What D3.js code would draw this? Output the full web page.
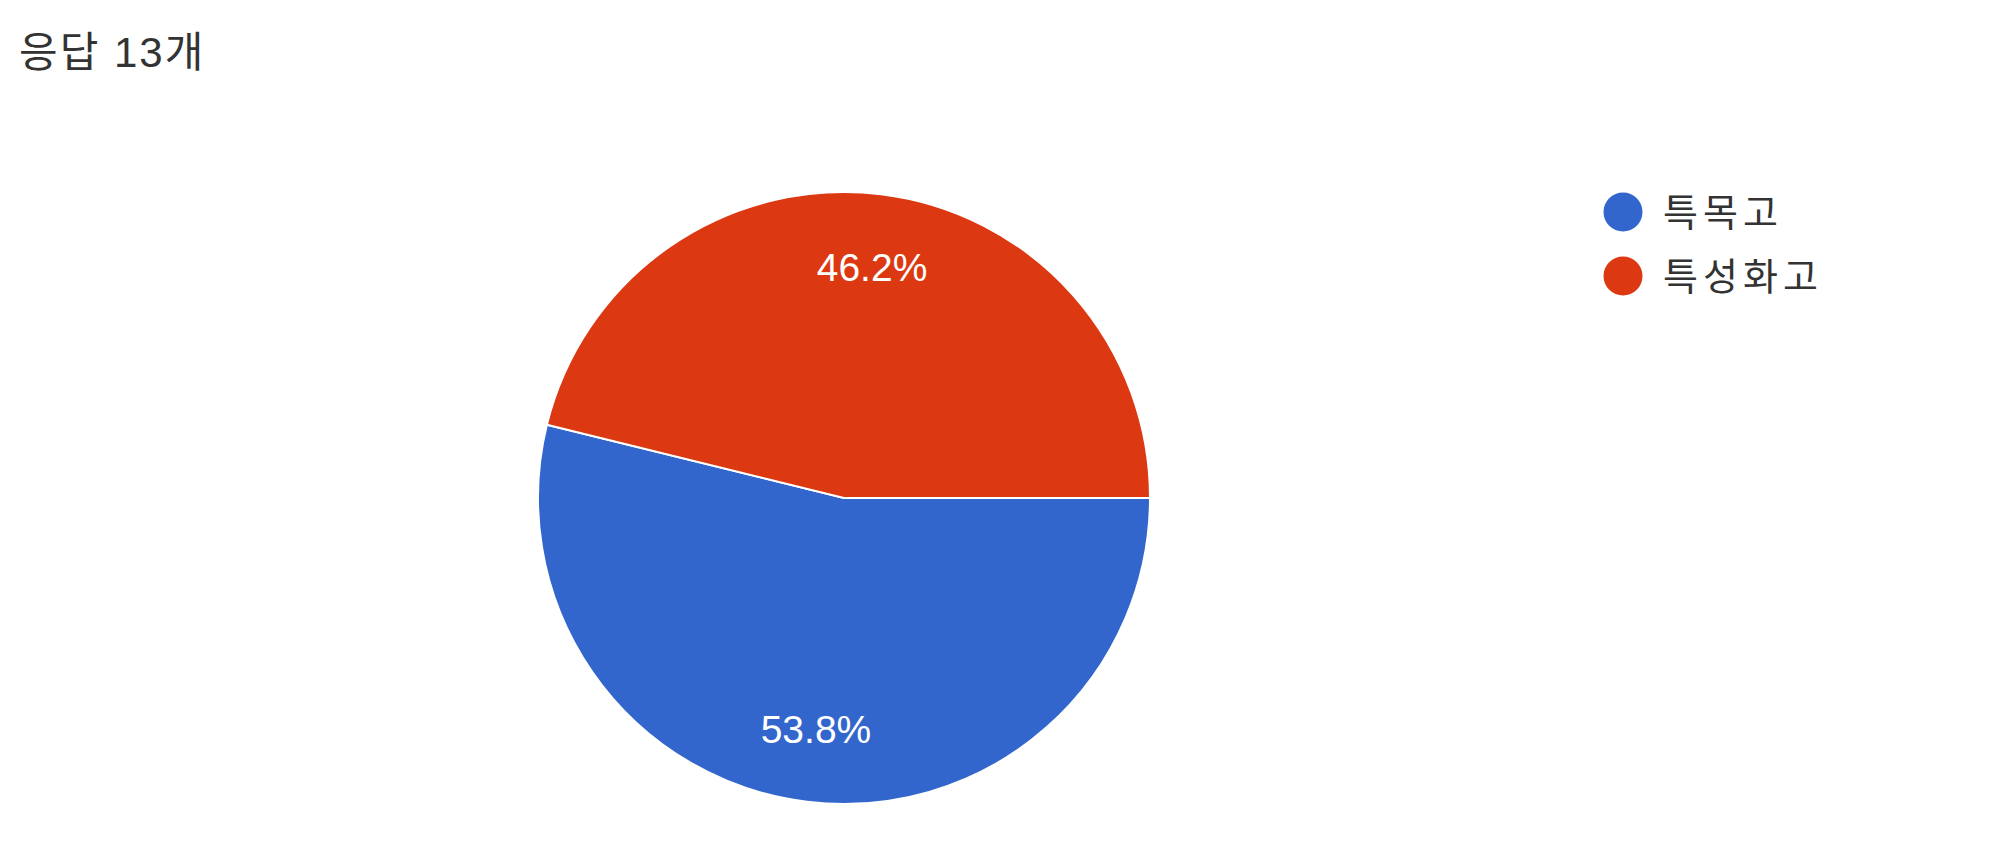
<!DOCTYPE html>
<html>
<head>
<meta charset="utf-8">
<script src="https://cdn.jsdelivr.net/npm/d3@7"></script>
<style>
  html, body { margin: 0; padding: 0; background: #fff; }
  svg { display: block; }
</style>
</head>
<body>
<svg id="chart" width="2000" height="862"></svg>
<script>
const titleText = "응답 13개";
const categories = ["특목고", "특성화고"];
const counts = [7, 6];
const colors = ["#3366cc", "#dc3912"];

const svg = d3.select("#chart");
const korFont = "'Liberation Sans', Arial, 'Noto Sans CJK KR', sans-serif";
const numFont = "'Liberation Sans', Arial, sans-serif";

svg.append("text")
  .attr("x", 19).attr("y", 67)
  .attr("font-family", korFont)
  .attr("font-size", 42)
  .attr("letter-spacing", 2)
  .attr("fill", "#333")
  .text(titleText);

const cx = 844, cy = 498, R = 306;
const total = d3.sum(counts);
const color = d3.scaleOrdinal().domain(categories).range(colors);

const pie = d3.pie().sort(null)
  .startAngle(Math.PI / 2).endAngle(Math.PI / 2 + 2 * Math.PI)
  .value((d, i) => counts[i]);
const arcs = pie(categories);
const arc = d3.arc().innerRadius(0).outerRadius(R);
const labelArc = d3.arc().innerRadius(R * 0.76).outerRadius(R * 0.76);

const g = svg.append("g").attr("transform", `translate(${cx},${cy})`);
g.selectAll("path").data(arcs).join("path")
  .attr("d", arc)
  .attr("fill", d => color(d.data))
  .attr("stroke", "#fff")
  .attr("stroke-width", 2);

g.selectAll("text.pct").data(arcs).join("text")
  .attr("class", "pct")
  .attr("transform", d => `translate(${labelArc.centroid(d)})`)
  .attr("text-anchor", "middle")
  .attr("dy", "0.36em")
  .attr("font-family", numFont)
  .attr("font-size", 39)
  .attr("fill", "#fff")
  .text(d => (d.value / total * 100).toFixed(1) + "%");

const legend = svg.append("g").attr("transform", "translate(1623,212)");
const rows = legend.selectAll("g").data(categories).join("g")
  .attr("transform", (d, i) => `translate(0,${i * 64})`);
rows.append("circle").attr("r", 19.5).attr("fill", d => color(d));
rows.append("text")
  .attr("x", 40).attr("y", 14)
  .attr("font-family", korFont)
  .attr("font-size", 38)
  .attr("letter-spacing", 5)
  .attr("fill", "#333")
  .text(d => d);
</script>
</body>
</html>
